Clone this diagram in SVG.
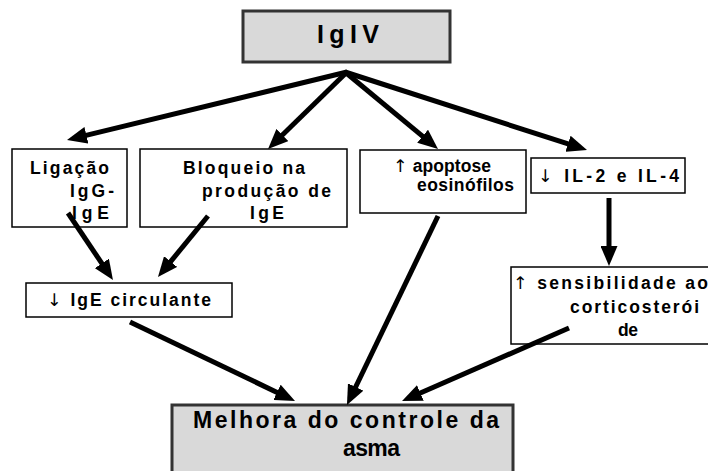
<svg xmlns="http://www.w3.org/2000/svg" width="708" height="471" viewBox="0 0 708 471">
<style>
.box{fill:#fff;stroke:#000;stroke-width:1.5}
.gbox{fill:#d9d9d9;stroke:#333;stroke-width:3}
text{font-family:"Liberation Sans",Arial,sans-serif;font-weight:bold;fill:#000}
.t{font-size:17.5px}
.big{font-size:23px}
.top{font-size:25px}
.ar{font-family:"DejaVu Sans",sans-serif;font-weight:normal}
.c{stroke:#000;stroke-width:5;fill:none;marker-end:url(#ah)}
</style>
<defs>
<marker id="ah" viewBox="0 0 4 3.4" refX="2" refY="1.7" markerWidth="4" markerHeight="3.4" orient="auto" markerUnits="strokeWidth">
<path d="M0,0 L4,1.7 L0,3.4 z" fill="#000"/>
</marker>
</defs>
<g id="igiv">
<rect class="gbox" x="243" y="11" width="207" height="51"/>
<text class="top" x="317" y="43" textLength="62" lengthAdjust="spacing">IgIV</text>
</g>
<g id="ligacao">
<rect class="box" x="12" y="149" width="115" height="78"/>
<text class="t" x="30" y="174" textLength="79" lengthAdjust="spacing">Ligação</text>
<text class="t" x="70" y="197" textLength="44" lengthAdjust="spacing">IgG-</text>
<text class="t" x="72" y="219" textLength="37" lengthAdjust="spacing">IgE</text>
</g>
<g id="bloqueio">
<rect class="box" x="140" y="149" width="207" height="78"/>
<text class="t" x="183" y="174" textLength="122" lengthAdjust="spacing">Bloqueio na</text>
<text class="t" x="202" y="197" textLength="129" lengthAdjust="spacing">produção de</text>
<text class="t" x="250" y="219" textLength="34" lengthAdjust="spacing">IgE</text>
</g>
<g id="apoptose">
<rect class="box" x="360" y="150" width="166" height="63"/>
<text class="t" x="393" y="172" textLength="98" lengthAdjust="spacing"><tspan class="ar">↑</tspan> apoptose</text>
<text class="t" x="417" y="191" textLength="97" lengthAdjust="spacing">eosinófilos</text>
</g>
<g id="il">
<rect class="box" x="531" y="158" width="154" height="35"/>
<text class="t" x="538" y="182" textLength="141" lengthAdjust="spacing"><tspan class="ar">↓</tspan> IL-2 e IL-4</text>
</g>
<g id="ige">
<rect class="box" x="26" y="283" width="206" height="34"/>
<text class="t" x="47" y="306" textLength="164" lengthAdjust="spacing"><tspan class="ar">↓</tspan> IgE circulante</text>
</g>
<g id="sensibilidade">
<rect class="box" x="511" y="267" width="205" height="77"/>
<text class="t" x="513" y="289" textLength="195" lengthAdjust="spacing"><tspan class="ar">↑</tspan> sensibilidade ao</text>
<text class="t" x="570" y="313" textLength="129" lengthAdjust="spacing">corticosterói</text>
<text class="t" x="618" y="336" textLength="20" lengthAdjust="spacing">de</text>
</g>
<g id="melhora">
<rect class="gbox" x="172" y="405" width="341" height="80"/>
<text class="big" x="193" y="428" textLength="306" lengthAdjust="spacing">Melhora do controle da</text>
<text class="big" x="343" y="456" textLength="57" lengthAdjust="spacing">asma</text>
</g>
<g id="connectors">
<path class="c" d="M347,72 L76.7,137.6"/>
<path class="c" d="M347,72 L275.2,142"/>
<path class="c" d="M345,72 L430.3,142.6"/>
<path class="c" d="M345,72 L577.5,146.9"/>
<path class="c" d="M68,213 L107.4,271.7"/>
<path class="c" d="M208,216 L164.3,269.3"/>
<path class="c" d="M609,198 L609,256"/>
<path class="c" d="M130,322 L286,396.7"/>
<path class="c" d="M438,216 L351.3,396"/>
<path class="c" d="M569,328 L411.2,397"/>
</g>
</svg>
